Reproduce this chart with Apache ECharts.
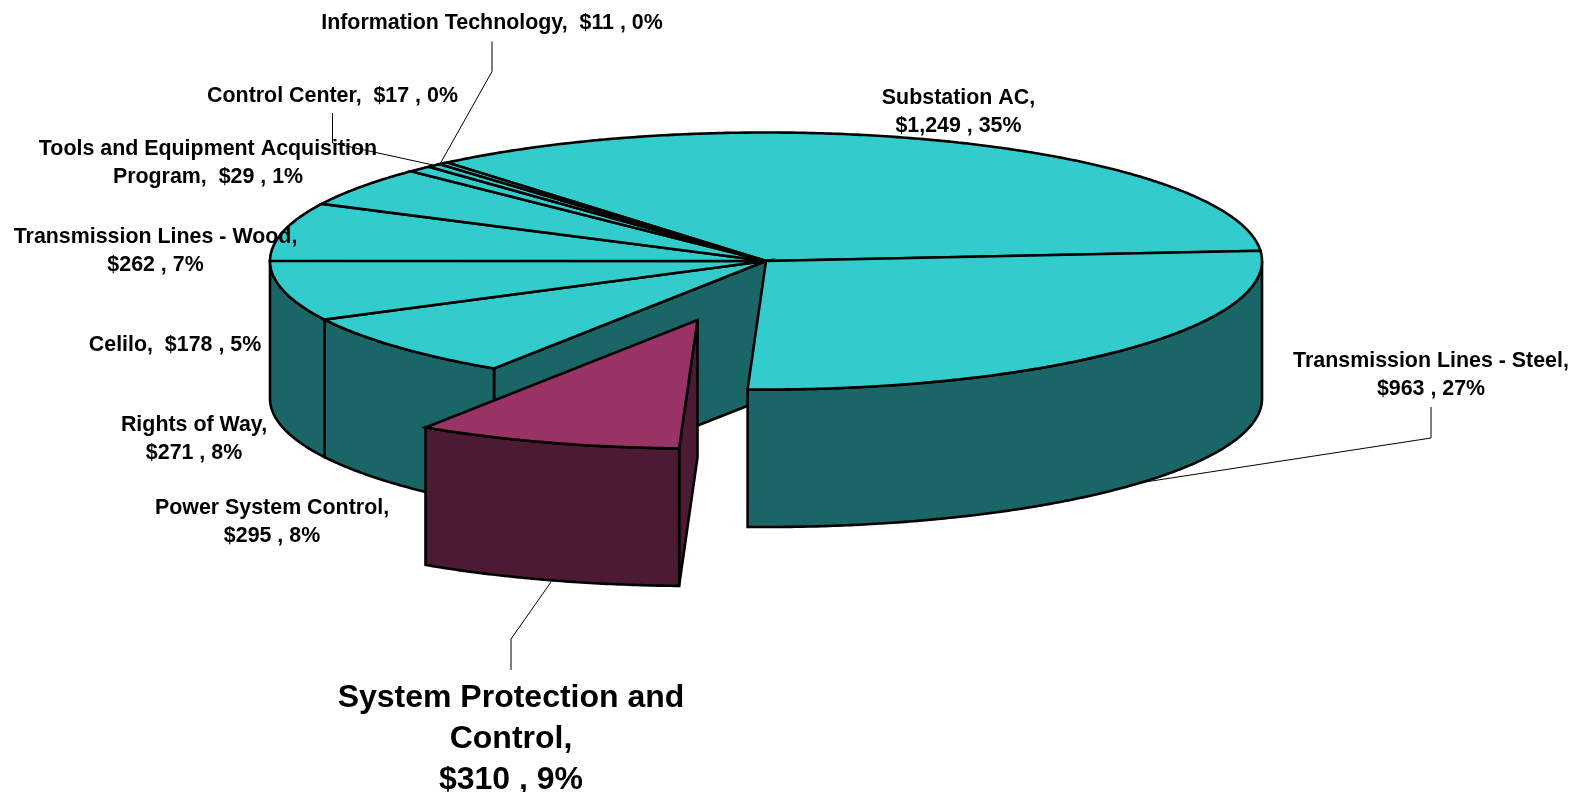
<!DOCTYPE html>
<html><head><meta charset="utf-8">
<style>html,body{margin:0;padding:0;background:#fff}#c{width:1574px;height:792px}</style>
<script src="https://cdn.jsdelivr.net/npm/echarts@6/dist/echarts.min.js"></script>
</head><body><div id="c"></div>
<script>
// Data, clockwise from the first slice
var categories = ['Substation AC','Transmission Lines - Steel','System Protection and Control','Power System Control','Rights of Way','Transmission Lines - Wood','Celilo','Tools and Equipment Acquisition Program','Control Center','Information Technology'];
var values = [1249,963,310,295,271,262,178,29,17,11];
var labelTexts = [
  'Substation AC,\n$1,249 , 35%',
  'Transmission Lines - Steel,\n$963 , 27%',
  'System Protection and\nControl,\n$310 , 9%',
  'Power System Control,\n$295 , 8%',
  'Rights of Way,\n$271 , 8%',
  'Transmission Lines - Wood,\n$262 , 7%',
  'Celilo,  $178 , 5%',
  'Tools and Equipment Acquisition\nProgram,  $29 , 1%',
  'Control Center,  $17 , 0%',
  'Information Technology,  $11 , 0%'
];
var explodedIndex = 2;

// Layout
var CX=766, CY=261, RX=496, RY=128.5, DEPTH=137.5, START_DEG=-40;
var EX_DX=-68.5, EX_DY=59;
var TOP='#33CCCC', SIDE='#1A6666', TOP_X='#993366', SIDE_X='#4D1A33';
var labelPos=[[958.5,112],[1431,375.5],[511,739],[272,522],[194,439],[155.5,251],[175,345],[208,163],[332.5,96],[492,23]];
var leaders={1:[[1431,407],[1431,438],[1145,482]],2:[[511,670],[511,639],[551,582]],8:[[332.5,113],[332.5,143],[433,165]],9:[[492,41.5],[492,71.5],[440,164]]};

var total=values.reduce(function(a,b){return a+b;},0);
var bounds=[START_DEG];
values.forEach(function(v,i){bounds.push(bounds[i]+v/total*360);});
function pt(deg,ox,oy,d){var r=deg*Math.PI/180;return [CX+(ox||0)+RX*Math.sin(r),CY+(oy||0)-RY*Math.cos(r)+(d||0)];}
function arc(a,b,ox,oy,d){var n=Math.max(2,Math.ceil(Math.abs(b-a)*2)),o=[];for(var i=0;i<=n;i++)o.push(pt(a+(b-a)*i/n,ox,oy,d));return o;}
function poly(points,fill){return {type:'polygon',shape:{points:points},style:{fill:fill,stroke:'#000',lineWidth:2.6,lineJoin:'miter'}};}
function topFace(a,b,ox,oy,fill){return poly([[CX+ox,CY+oy]].concat(arc(a,b,ox,oy,0)),fill);}
function outerWall(a,b,ox,oy,fill){
  var s=Math.max(a,90),e=Math.min(b,270);
  if(e<=s)return null;
  return poly(arc(s,e,ox,oy,0).concat(arc(s,e,ox,oy,DEPTH).reverse()),fill);
}
function cutWall(deg,ox,oy,fill){
  var p=pt(deg,ox,oy,0),q=pt(deg,ox,oy,DEPTH);
  return poly([[CX+ox,CY+oy],p,q,[CX+ox,CY+oy+DEPTH]],fill);
}
function group(ch){return {type:'group',children:ch.filter(Boolean)};}

function custom(z,render){
  return {type:'custom',coordinateSystem:'none',z:z,silent:true,animation:false,clip:false,
    data:values.map(function(v,i){return {name:categories[i],value:[v,i]};}),renderItem:render};
}
var series=[
  // inner wall exposed by the pulled-out slice
  custom(1,function(p,api){var i=api.value(1);
    return group(i===explodedIndex?[cutWall(bounds[i+1],0,0,SIDE)]:[]);}),
  // outer walls
  custom(2,function(p,api){var i=api.value(1);
    return group(i===explodedIndex?[]:[outerWall(bounds[i],bounds[i+1],0,0,SIDE)]);}),
  // top faces
  custom(3,function(p,api){var i=api.value(1);
    return group(i===explodedIndex?[]:[topFace(bounds[i],bounds[i+1],0,0,TOP)]);}),
  // pulled-out slice
  custom(4,function(p,api){var i=api.value(1);
    if(i!==explodedIndex)return group([]);
    return group([cutWall(bounds[i],EX_DX,EX_DY,SIDE_X),outerWall(bounds[i],bounds[i+1],EX_DX,EX_DY,SIDE_X),topFace(bounds[i],bounds[i+1],EX_DX,EX_DY,TOP_X)]);}),
  // leaders
  custom(5,function(p,api){var i=api.value(1);
    return group(leaders[i]?[{type:'polyline',shape:{points:leaders[i]},style:{fill:null,stroke:'#000',lineWidth:1}}]:[]);}),
  // labels
  custom(6,function(p,api){var i=api.value(1),big=i===explodedIndex;
    return {type:'text',style:{text:labelTexts[i],x:labelPos[i][0],y:labelPos[i][1],align:'center',verticalAlign:'middle',
      fill:'#000',fontFamily:'"Liberation Sans",Arial,sans-serif',fontWeight:'bold',fontSize:big?32:21.4,lineHeight:big?41:28}};})
];
var chart=echarts.init(document.getElementById('c'),null,{renderer:'canvas',width:1574,height:792});
chart.setOption({animation:false,backgroundColor:'#fff',series:series});
</script></body></html>
